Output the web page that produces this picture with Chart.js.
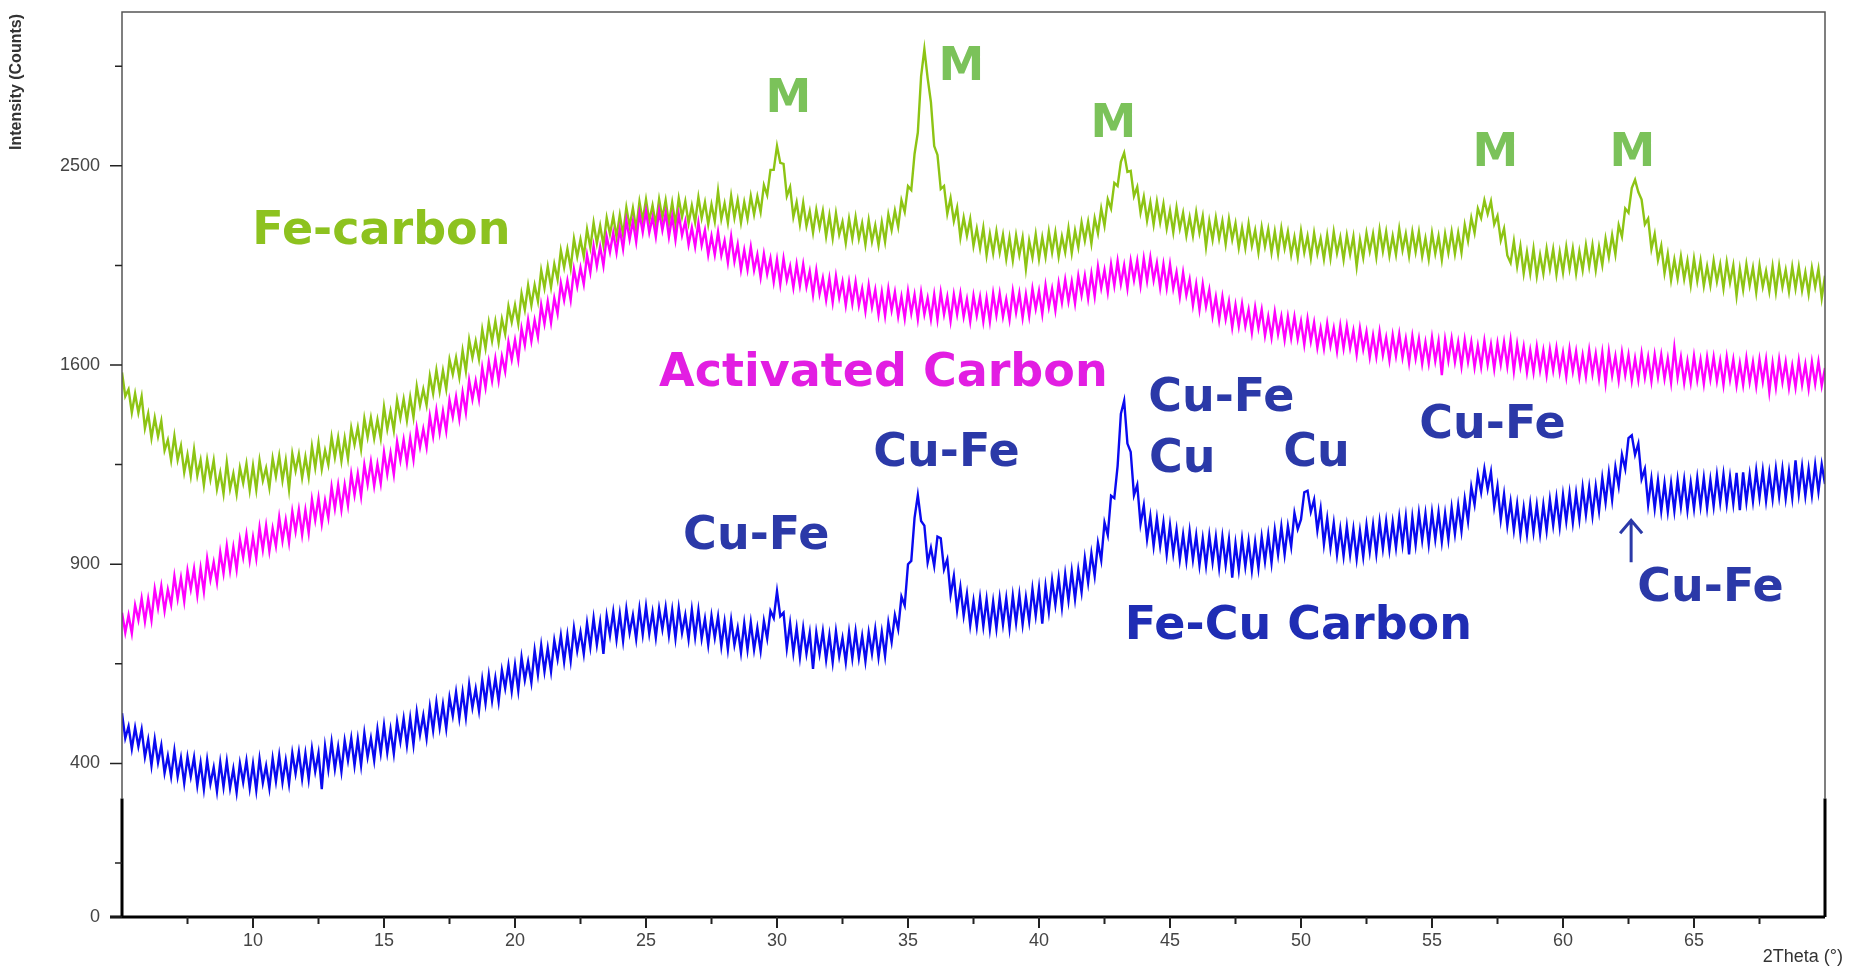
<!DOCTYPE html>
<html>
<head>
<meta charset="utf-8">
<title>XRD patterns</title>
<script src="https://cdn.jsdelivr.net/npm/chart.js@4.4.1/dist/chart.umd.min.js"></script>
<style>
  html, body { margin: 0; padding: 0; background: #fff; }
  #xrdChart { display: block; }
</style>
</head>
<body>
<canvas id="xrdChart" width="1849" height="971"></canvas>
<script>
"use strict";
// scan grid: 2theta from 5 to 70 deg, one reading every 0.125 deg
const thetaStart = 5;
const thetaStep = 0.125;

// intensities (counts), one row per degree
const feCarbon = [
  1570, 1477, 1504, 1415, 1487, 1414, 1476, 1356, // 5
  1411, 1320, 1395, 1326, 1383, 1275, 1313, 1240,
  1328, 1242, 1292, 1198, 1260, 1186, 1278, 1187,
  1241, 1154, 1243, 1174, 1240, 1141, 1197, 1125,
  1233, 1141, 1194, 1124, 1214, 1161, 1228, 1137,
  1221, 1138, 1240, 1169, 1213, 1145, 1247, 1184, // 10
  1256, 1170, 1240, 1140, 1264, 1203, 1262, 1179,
  1252, 1181, 1290, 1214, 1303, 1209, 1276, 1225,
  1324, 1250, 1322, 1238, 1320, 1246, 1358, 1296,
  1359, 1280, 1392, 1323, 1395, 1319, 1388, 1319,
  1436, 1353, 1420, 1348, 1462, 1394, 1466, 1385, // 15
  1474, 1397, 1516, 1442, 1504, 1443, 1557, 1488,
  1580, 1496, 1578, 1505, 1622, 1563, 1630, 1552,
  1659, 1576, 1703, 1630, 1697, 1624, 1746, 1668,
  1776, 1698, 1780, 1692, 1790, 1727, 1845, 1777,
  1850, 1770, 1900, 1830, 1936, 1849, 1937, 1867, // 20
  2003, 1924, 2020, 1928, 2031, 1962, 2093, 2016,
  2100, 2013, 2147, 2065, 2144, 2065, 2191, 2107,
  2223, 2126, 2209, 2117, 2246, 2169, 2253, 2156,
  2259, 2165, 2295, 2206, 2292, 2192, 2323, 2233,
  2334, 2232, 2305, 2213, 2335, 2245, 2330, 2220, // 25
  2320, 2215, 2340, 2250, 2325, 2220, 2305, 2225,
  2345, 2245, 2320, 2215, 2310, 2230, 2375, 2240,
  2315, 2223, 2351, 2246, 2331, 2223, 2321, 2241,
  2351, 2262, 2349, 2274, 2404, 2355, 2480, 2480,
  2600, 2515, 2510, 2350, 2395, 2250, 2320, 2215, // 30
  2318, 2207, 2277, 2176, 2285, 2200, 2279, 2158,
  2258, 2150, 2268, 2167, 2226, 2128, 2241, 2148,
  2250, 2147, 2220, 2120, 2235, 2135, 2210, 2117,
  2225, 2133, 2262, 2188, 2280, 2203, 2330, 2275,
  2399, 2380, 2560, 2670, 2970, 3120, 2960, 2830, // 35
  2600, 2555, 2385, 2400, 2265, 2340, 2230, 2295,
  2153, 2247, 2161, 2240, 2114, 2195, 2102, 2199,
  2071, 2170, 2080, 2182, 2084, 2166, 2054, 2153,
  2048, 2163, 2073, 2153, 2010, 2138, 2061, 2168,
  2054, 2154, 2064, 2181, 2084, 2177, 2065, 2158, // 40
  2085, 2196, 2081, 2185, 2108, 2224, 2139, 2227,
  2125, 2244, 2173, 2290, 2208, 2335, 2290, 2415,
  2400, 2520, 2565, 2470, 2475, 2350, 2395, 2270,
  2347, 2233, 2320, 2214, 2324, 2225, 2312, 2196,
  2281, 2178, 2295, 2195, 2269, 2162, 2249, 2161, // 45
  2273, 2175, 2253, 2110, 2231, 2143, 2246, 2148,
  2230, 2122, 2240, 2144, 2219, 2106, 2198, 2105,
  2218, 2115, 2187, 2085, 2202, 2112, 2192, 2084,
  2181, 2078, 2196, 2103, 2180, 2073, 2155, 2062,
  2184, 2084, 2159, 2059, 2174, 2079, 2149, 2054, // 50
  2164, 2059, 2179, 2081, 2154, 2051, 2163, 2075,
  2158, 2020, 2143, 2061, 2174, 2089, 2170, 2063,
  2190, 2090, 2180, 2070, 2160, 2075, 2195, 2095,
  2170, 2068, 2180, 2087, 2179, 2066, 2149, 2054,
  2174, 2079, 2159, 2051, 2169, 2082, 2180, 2078, // 55
  2175, 2084, 2213, 2137, 2246, 2175, 2290, 2245,
  2330, 2265, 2325, 2215, 2255, 2140, 2195, 2070,
  2037, 2136, 2020, 2112, 1989, 2086, 1989, 2101,
  1978, 2073, 1988, 2101, 2009, 2099, 1984, 2086,
  1994, 2109, 2009, 2102, 1989, 2089, 2004, 2117, // 60
  2020, 2117, 2005, 2110, 2026, 2147, 2063, 2164,
  2075, 2211, 2157, 2290, 2270, 2390, 2430, 2370,
  2334, 2215, 2242, 2100, 2169, 2050, 2115, 1990,
  2077, 1960, 2052, 1967, 2066, 1964, 2046, 1938,
  2056, 1956, 2046, 1934, 2021, 1936, 2046, 1953, // 65
  2030, 1923, 2040, 1948, 2025, 1890, 2010, 1917,
  2030, 1935, 2015, 1905, 2025, 1930, 2000, 1910,
  2020, 1907, 2024, 1929, 2004, 1909, 2019, 1922,
  2019, 1914, 1994, 1899, 2014, 1929, 2009, 1880,
  1979                                            // 70
];

const activatedCarbon = [
  760, 706, 753, 704, 781, 740, 800, 736,          // 5
  798, 740, 827, 773, 835, 765, 825, 782,
  864, 799, 859, 792, 881, 826, 886, 809,
  888, 820, 917, 854, 906, 846, 936, 873,
  956, 881, 952, 884, 976, 921, 992, 912,
  983, 918, 1014, 944, 1020, 940, 1011, 956,       // 10
  1047, 972, 1038, 967, 1066, 1001, 1072, 991,
  1070, 997, 1105, 1038, 1111, 1026, 1102, 1045,
  1148, 1076, 1154, 1072, 1155, 1086, 1192, 1120,
  1193, 1116, 1224, 1157, 1235, 1151, 1227, 1160,
  1269, 1192, 1266, 1191, 1307, 1240, 1314, 1232,  // 15
  1320, 1243, 1357, 1287, 1353, 1287, 1401, 1327,
  1423, 1339, 1420, 1346, 1462, 1398, 1475, 1391,
  1492, 1415, 1539, 1465, 1537, 1465, 1589, 1511,
  1613, 1537, 1626, 1538, 1635, 1574, 1693, 1622,
  1702, 1621, 1751, 1681, 1786, 1698, 1785, 1715,  // 20
  1850, 1770, 1865, 1775, 1880, 1813, 1946, 1871,
  1957, 1872, 2008, 1931, 2015, 1941, 2072, 1993,
  2114, 2022, 2111, 2024, 2158, 2086, 2175, 2084,
  2193, 2101, 2234, 2145, 2230, 2133, 2267, 2178,
  2278, 2176, 2249, 2157, 2279, 2187, 2269, 2156,  // 25
  2253, 2143, 2262, 2164, 2230, 2120, 2199, 2111,
  2223, 2117, 2187, 2073, 2160, 2074, 2179, 2071,
  2138, 2038, 2157, 2044, 2121, 2005, 2095, 2007,
  2109, 2004, 2073, 1972, 2077, 1987, 2057, 1952,
  2051, 1941, 2056, 1959, 2021, 1926, 2030, 1935,  // 30
  2030, 1930, 1999, 1894, 2003, 1898, 1968, 1872,
  1967, 1862, 1977, 1882, 1952, 1849, 1951, 1856,
  1951, 1848, 1921, 1824, 1936, 1841, 1916, 1808,
  1906, 1804, 1921, 1828, 1906, 1801, 1886, 1793,
  1910, 1815, 1895, 1790, 1905, 1810, 1880, 1790,  // 35
  1895, 1788, 1905, 1810, 1885, 1782, 1895, 1810,
  1900, 1800, 1875, 1780, 1890, 1805, 1885, 1780,
  1880, 1780, 1900, 1807, 1900, 1800, 1875, 1788,
  1910, 1818, 1901, 1796, 1896, 1803, 1921, 1834,
  1911, 1811, 1936, 1841, 1921, 1828, 1946, 1861,  // 40
  1961, 1866, 1952, 1857, 1977, 1892, 1978, 1878,
  1988, 1888, 2019, 1924, 2004, 1907, 2030, 1935,
  2045, 1942, 2025, 1923, 2046, 1959, 2046, 1936,
  2056, 1956, 2061, 1959, 2036, 1926, 2030, 1925,
  2030, 1922, 1994, 1886, 1993, 1893, 1962, 1849,  // 45
  1941, 1831, 1941, 1844, 1916, 1803, 1885, 1785,
  1885, 1790, 1865, 1755, 1850, 1760, 1855, 1760,
  1830, 1733, 1840, 1752, 1830, 1720, 1800, 1713,
  1820, 1727, 1800, 1703, 1800, 1710, 1800, 1707,
  1780, 1683, 1790, 1697, 1775, 1671, 1751, 1668,  // 50
  1771, 1679, 1751, 1656, 1761, 1668, 1761, 1669,
  1741, 1643, 1751, 1664, 1736, 1633, 1721, 1634,
  1737, 1640, 1712, 1619, 1722, 1637, 1727, 1630,
  1707, 1609, 1717, 1627, 1707, 1605, 1692, 1607,
  1712, 1617, 1697, 1560, 1703, 1618, 1708, 1613,  // 55
  1693, 1595, 1703, 1613, 1693, 1591, 1678, 1593,
  1698, 1603, 1683, 1585, 1688, 1603, 1693, 1596,
  1700, 1576, 1684, 1594, 1674, 1571, 1659, 1572,
  1674, 1579, 1659, 1561, 1664, 1579, 1669, 1572,
  1650, 1555, 1665, 1575, 1655, 1553, 1640, 1555,  // 60
  1660, 1565, 1645, 1547, 1650, 1530, 1655, 1558,
  1635, 1540, 1650, 1560, 1640, 1538, 1626, 1541,
  1646, 1551, 1631, 1536, 1641, 1553, 1641, 1546,
  1626, 1531, 1670, 1551, 1631, 1529, 1616, 1531,
  1636, 1541, 1621, 1526, 1631, 1544, 1632, 1537,  // 65
  1617, 1522, 1632, 1542, 1622, 1520, 1607, 1522,
  1627, 1532, 1612, 1517, 1622, 1535, 1622, 1495,
  1607, 1512, 1622, 1532, 1612, 1510, 1597, 1512,
  1617, 1522, 1602, 1507, 1612, 1525, 1613, 1518,
  1588                                             // 70
];

const feCuCarbon = [
  507, 452, 478, 430, 475, 435, 471, 413,          // 5
  449, 396, 450, 402, 437, 381, 415, 374,
  426, 374, 411, 361, 413, 374, 412, 357,
  401, 350, 407, 360, 392, 346, 402, 354,
  404, 352, 389, 344, 400, 363, 405, 352,
  399, 348, 409, 362, 395, 352, 410, 365,          // 10
  416, 363, 406, 360, 421, 380, 423, 370,
  420, 369, 430, 384, 421, 350, 435, 388,
  444, 389, 434, 384, 447, 406, 452, 396,
  450, 396, 463, 413, 452, 406, 471, 421,
  480, 422, 471, 420, 488, 445, 495, 437,          // 15
  496, 439, 510, 460, 502, 452, 521, 469,
  532, 475, 527, 473, 543, 501, 556, 496,
  556, 498, 574, 520, 564, 513, 586, 530,
  597, 536, 590, 534, 609, 565, 621, 558,
  622, 560, 641, 585, 630, 579, 659, 599,          // 20
  672, 606, 665, 606, 685, 637, 698, 630,
  699, 633, 718, 658, 707, 650, 731, 668,
  745, 674, 734, 650, 751, 698, 762, 687,
  757, 684, 770, 705, 753, 689, 771, 701,
  777, 703, 761, 693, 771, 715, 775, 699,          // 25
  767, 691, 773, 705, 753, 688, 768, 694,
  767, 690, 743, 674, 751, 692, 749, 670,
  735, 662, 740, 673, 718, 654, 731, 661,
  733, 661, 718, 658, 737, 690, 765, 745,
  820, 750, 760, 665, 731, 653, 718, 642,          // 30
  718, 651, 705, 612, 706, 650, 709, 635,
  699, 629, 709, 644, 691, 629, 707, 639,
  709, 640, 697, 632, 706, 651, 715, 642,
  708, 645, 733, 681, 753, 715, 805, 780,
  900, 910, 1045, 1120, 1035, 1020, 905, 950,      // 35
  895, 985, 980, 885, 915, 810, 865, 767,
  832, 752, 813, 726, 793, 722, 801, 723,
  797, 715, 791, 717, 801, 728, 800, 718,
  807, 732, 810, 728, 803, 736, 827, 752,
  830, 730, 834, 762, 852, 782, 859, 775,          // 40
  870, 794, 879, 798, 883, 818, 918, 846,
  933, 865, 965, 912, 1030, 990, 1118, 1110,
  1220, 1410, 1460, 1300, 1270, 1120, 1155, 1025,
  1085, 977, 1050, 956, 1043, 956, 1030, 930,
  1021, 933, 1007, 914, 992, 910, 1002, 914,       // 45
  989, 897, 979, 896, 988, 906, 984, 890,
  984, 898, 976, 860, 963, 883, 977, 893,
  971, 882, 968, 888, 984, 908, 991, 904,
  1006, 930, 1017, 930, 1018, 954, 1061, 1009,
  1040, 1130, 1135, 1065, 1105, 1005, 1075, 962,   // 50
  1043, 950, 1028, 930, 1009, 925, 1017, 929,
  1009, 917, 1003, 923, 1021, 939, 1023, 932,
  1032, 948, 1034, 944, 1031, 951, 1047, 960,
  1048, 930, 1046, 960, 1060, 974, 1058, 962,
  1063, 977, 1063, 969, 1059, 976, 1078, 994,      // 55
  1086, 1003, 1107, 1034, 1148, 1089, 1190, 1130,
  1210, 1140, 1200, 1082, 1150, 1040, 1123, 1020,
  1098, 1006, 1090, 992, 1078, 992, 1090, 1000,
  1086, 994, 1088, 1004, 1105, 1021, 1111, 1017,
  1121, 1034, 1126, 1030, 1126, 1040, 1146, 1056,  // 60
  1146, 1052, 1150, 1068, 1178, 1096, 1196, 1104,
  1216, 1150, 1260, 1210, 1320, 1330, 1260, 1300,
  1175, 1210, 1088, 1175, 1076, 1170, 1068, 1160,
  1066, 1160, 1068, 1172, 1082, 1172, 1070, 1162,
  1076, 1178, 1084, 1178, 1078, 1172, 1084, 1188,  // 65
  1096, 1190, 1090, 1182, 1092, 1196, 1070, 1198,
  1098, 1190, 1100, 1204, 1112, 1204, 1102, 1196,
  1108, 1210, 1116, 1210, 1110, 1202, 1112, 1240,
  1124, 1218, 1118, 1210, 1120, 1224, 1132, 1226,
  1158                                             // 70
];

// axes
const xMin = 5, xMax = 70;
const xTickValues = [10, 15, 20, 25, 30, 35, 40, 45, 50, 55, 60, 65];
const xMinorTicks = [7.5, 12.5, 17.5, 22.5, 27.5, 32.5, 37.5, 42.5, 47.5, 52.5, 57.5, 62.5, 67.5];
const yMin = 151, yMax = 3332;
const yTickValues = [151, 400, 900, 1600, 2500];
const yTickLabels = ['0', '400', '900', '1600', '2500'];
const yMinorTicks = [225, 625, 1225, 2025, 3025];

// peak / phase annotations, placed in data coordinates (2theta, counts)
const noteTexts  = ['Fe-carbon', 'M', 'M', 'M', 'M', 'M', 'Activated Carbon',
                    'Cu-Fe', 'Cu-Fe', 'Cu-Fe', 'Cu', 'Cu', 'Cu-Fe', 'Cu-Fe', 'Fe-Cu Carbon'];
const noteTheta  = [14.9, 30.43, 37.04, 42.84, 57.42, 62.65, 34.06,
                    29.21, 36.47, 46.96, 45.47, 50.59, 57.31, 65.63, 49.9];
const noteCounts = [2180, 2842, 3015, 2710, 2560, 2560, 1562,
                    983, 1261, 1468, 1240, 1261, 1363, 827, 720];
const noteColors = ['#8dc21f', '#7bc25a', '#7bc25a', '#7bc25a', '#7bc25a', '#7bc25a', '#e21ee2',
                    '#2b39a8', '#2b39a8', '#2b39a8', '#2b39a8', '#2b39a8', '#2b39a8', '#2b39a8', '#1f2db4'];
const arrowTheta = 62.6;
const arrowFrom = 906, arrowTo = 1037;

const twoTheta = feCarbon.map((_, i) => thetaStart + i * thetaStep);
const toPoints = arr => arr.map((v, i) => ({ x: twoTheta[i], y: v }));

// square-root intensity axis, as in the diffractometer software
class SqrtScale extends Chart.LinearScale {
  getPixelForValue(value) {
    const a = Math.sqrt(this.min), b = Math.sqrt(this.max);
    const t = (Math.sqrt(Math.max(value, 0)) - a) / (b - a);
    return this.getPixelForDecimal(t);
  }
  getValueForPixel(pixel) {
    const a = Math.sqrt(this.min), b = Math.sqrt(this.max);
    const s = a + this.getDecimalForPixel(pixel) * (b - a);
    return s * s;
  }
}
SqrtScale.id = 'sqrt';
SqrtScale.defaults = Chart.LinearScale.defaults;
Chart.register(SqrtScale);

const decor = {
  id: 'decor',
  afterDraw(chart) {
    const { ctx, chartArea: a } = chart;
    const x = chart.scales.x, y = chart.scales.y;
    const thickFrom = a.bottom - (a.bottom - a.top) * 0.131;
    ctx.save();

    // frame: thin grey on top, heavy black near the bottom
    ctx.strokeStyle = '#555';
    ctx.lineWidth = 1.5;
    ctx.beginPath();
    ctx.moveTo(a.left, thickFrom);
    ctx.lineTo(a.left, a.top);
    ctx.lineTo(a.right, a.top);
    ctx.lineTo(a.right, thickFrom);
    ctx.stroke();
    ctx.strokeStyle = '#000';
    ctx.lineWidth = 3;
    ctx.beginPath();
    ctx.moveTo(a.left, thickFrom);
    ctx.lineTo(a.left, a.bottom);
    ctx.moveTo(a.right, thickFrom);
    ctx.lineTo(a.right, a.bottom);
    ctx.moveTo(a.left - 12, a.bottom);
    ctx.lineTo(a.right, a.bottom);
    ctx.stroke();

    // tick marks
    ctx.lineWidth = 1.5;
    ctx.strokeStyle = '#222';
    ctx.beginPath();
    yTickValues.forEach(v => {
      const py = y.getPixelForValue(v);
      ctx.moveTo(a.left - 12, py); ctx.lineTo(a.left, py);
    });
    yMinorTicks.forEach(v => {
      const py = y.getPixelForValue(v);
      ctx.moveTo(a.left - 7, py); ctx.lineTo(a.left, py);
    });
    ctx.stroke();
    ctx.lineWidth = 2;
    ctx.beginPath();
    xTickValues.forEach(v => {
      const px = x.getPixelForValue(v);
      ctx.moveTo(px, a.bottom); ctx.lineTo(px, a.bottom + 11);
    });
    xMinorTicks.forEach(v => {
      const px = x.getPixelForValue(v);
      ctx.moveTo(px, a.bottom); ctx.lineTo(px, a.bottom + 7);
    });
    ctx.stroke();

    // axis titles
    ctx.fillStyle = '#333';
    ctx.font = '18px "Liberation Sans", Arial, sans-serif';
    ctx.textAlign = 'right';
    ctx.textBaseline = 'middle';
    ctx.fillText('2Theta (°)', chart.width - 6, a.bottom + 40);
    ctx.save();
    ctx.translate(17, 150);
    ctx.rotate(-Math.PI / 2);
    ctx.textAlign = 'left';
    ctx.font = 'bold 16px "Liberation Sans", Arial, sans-serif';
    ctx.fillText('Intensity (Counts)', 0, 0);
    ctx.restore();

    // annotations
    ctx.font = 'bold 46px "DejaVu Sans", Verdana, sans-serif';
    ctx.textAlign = 'center';
    ctx.textBaseline = 'middle';
    noteTexts.forEach((t, i) => {
      ctx.fillStyle = noteColors[i];
      ctx.fillText(t, x.getPixelForValue(noteTheta[i]), y.getPixelForValue(noteCounts[i]));
    });

    // arrow under the 62.6 deg Cu-Fe peak
    const ax = x.getPixelForValue(arrowTheta);
    const tip = y.getPixelForValue(arrowTo), tail = y.getPixelForValue(arrowFrom);
    ctx.strokeStyle = '#2b39a8';
    ctx.lineWidth = 3;
    ctx.beginPath();
    ctx.moveTo(ax, tail); ctx.lineTo(ax, tip);
    ctx.moveTo(ax - 11, tip + 13); ctx.lineTo(ax, tip); ctx.lineTo(ax + 11, tip + 13);
    ctx.stroke();
    ctx.restore();
  }
};

new Chart(document.getElementById('xrdChart'), {
  type: 'line',
  data: {
    datasets: [
      { label: 'Activated Carbon', data: toPoints(activatedCarbon), borderColor: '#ff00ff' },
      { label: 'Fe-carbon', data: toPoints(feCarbon), borderColor: '#8dc414' },
      { label: 'Fe-Cu Carbon', data: toPoints(feCuCarbon), borderColor: '#0a0af0' }
    ]
  },
  options: {
    responsive: false,
    animation: false,
    devicePixelRatio: 1,
    events: [],
    layout: { padding: { top: 12, right: 24, left: 0, bottom: 0 } },
    elements: {
      point: { radius: 0 },
      line: { borderWidth: 2.4, tension: 0, borderJoinStyle: 'miter' }
    },
    plugins: {
      legend: { display: false },
      tooltip: { enabled: false }
    },
    scales: {
      x: {
        type: 'linear',
        min: xMin,
        max: xMax,
        grid: { display: false, drawTicks: false },
        border: { display: false },
        afterBuildTicks: s => { s.ticks = xTickValues.map(v => ({ value: v })); },
        afterFit: s => { s.height = 54; s.paddingLeft = 0; s.paddingRight = 0; },
        ticks: {
          autoSkip: false,
          maxRotation: 0,
          padding: 13,
          color: '#444',
          font: { family: '"Liberation Sans", Arial, sans-serif', size: 18 }
        }
      },
      y: {
        type: 'sqrt',
        min: yMin,
        max: yMax,
        grid: { display: false, drawTicks: false },
        border: { display: false },
        afterBuildTicks: s => { s.ticks = yTickValues.map(v => ({ value: v })); },
        afterFit: s => { s.width = 122; s.paddingTop = 0; s.paddingBottom = 0; },
        ticks: {
          autoSkip: false,
          padding: 22,
          color: '#444',
          font: { family: '"Liberation Sans", Arial, sans-serif', size: 18 },
          callback: (v, i) => yTickLabels[i]
        }
      }
    }
  },
  plugins: [decor]
});
</script>
</body>
</html>
